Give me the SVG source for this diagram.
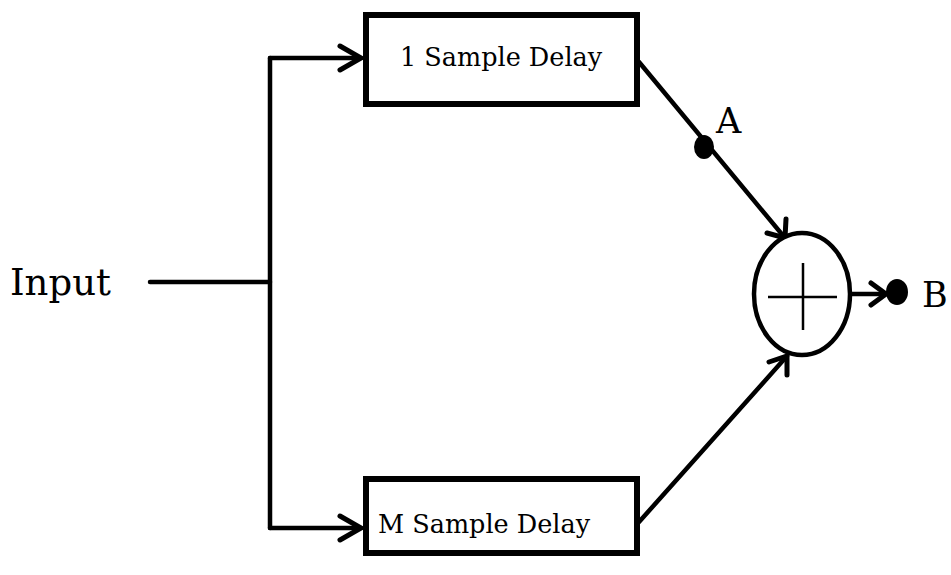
<svg xmlns="http://www.w3.org/2000/svg" width="951" height="575" viewBox="0 0 951 575">
  <style>
    .box { fill: #fff; stroke: #000; stroke-width: 6; }
    .wire { fill: none; stroke: #000; stroke-width: 4.5; stroke-linecap: round; stroke-linejoin: round; }
    .head { fill: none; stroke: #000; stroke-width: 5; stroke-linecap: round; stroke-linejoin: miter; }
    .lbl { font-family: "DejaVu Serif", "Liberation Serif", serif; fill: #000; }
    .dot { fill: #000; }
  </style>
  <rect width="951" height="575" fill="#fff"/>

  <!-- connectors -->
  <g id="connectors">
    <!-- input feed and split -->
    <path class="wire" d="M150 282 H270"/>
    <path class="wire" d="M270 58 V528"/>
    <path class="wire" d="M270 58 H361"/>
    <path class="wire" d="M270 528 H361"/>
    <path class="head" d="M340 46 L361 58 L340 70"/>
    <path class="head" d="M340 516 L361 528 L340 540"/>
    <!-- delayed paths into the adder -->
    <path class="wire" d="M639 62 L785 238"/>
    <path class="head" d="M767 233 L785 238 L786 219"/>
    <path class="wire" d="M639 522 L787 356"/>
    <path class="head" d="M769 362 L787 356 L787 375"/>
    <!-- adder output -->
    <path class="wire" d="M851 294 H884"/>
    <path class="head" d="M871 283 L886 294 L871 305"/>
  </g>

  <g id="input-label">
    <text class="lbl" x="10" y="295" font-size="37">Input</text>
  </g>

  <g id="delay-1">
    <rect class="box" x="366" y="15" width="271" height="89"/>
    <text class="lbl" x="400" y="66" font-size="25.5">1 Sample Delay</text>
  </g>

  <g id="delay-m">
    <rect class="box" x="366" y="479" width="271" height="74"/>
    <text class="lbl" x="378" y="533" font-size="25.5">M Sample Delay</text>
  </g>

  <g id="adder">
    <ellipse cx="802" cy="294" rx="48" ry="61" fill="#fff" stroke="#000" stroke-width="4.5"/>
    <path d="M768 297 H837 M803 263 V330" stroke="#000" stroke-width="2.5" fill="none"/>
  </g>

  <g id="point-a">
    <ellipse class="dot" cx="704" cy="147" rx="10" ry="12"/>
    <text class="lbl" x="716" y="133" font-size="35">A</text>
  </g>

  <g id="point-b">
    <ellipse class="dot" cx="897" cy="292" rx="11" ry="13"/>
    <text class="lbl" x="922" y="307" font-size="35">B</text>
  </g>
</svg>
